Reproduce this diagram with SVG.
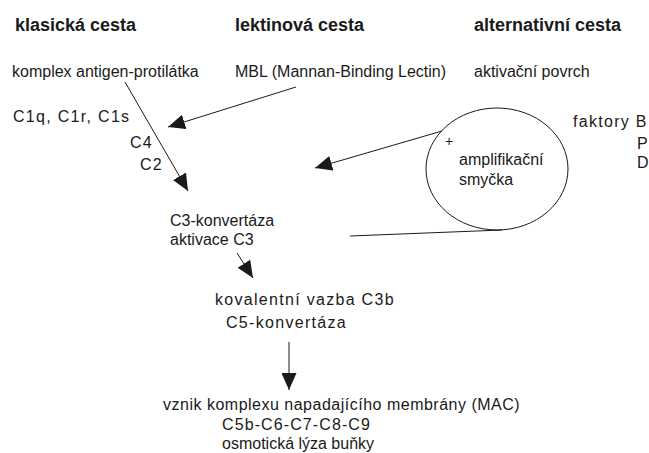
<svg xmlns="http://www.w3.org/2000/svg" width="649" height="453" viewBox="0 0 649 453">
  <style>
    text { font-family: "Liberation Sans", Arial, sans-serif; font-size: 16px; fill: #1a1a1a; }
    .title { font-weight: bold; font-size: 18px; }
    .wide { letter-spacing: 1.3px; }
    .edge { stroke: #1a1a1a; stroke-width: 1; fill: none; }
    .arrow { marker-end: url(#head); }
  </style>
  <defs>
    <marker id="head" viewBox="0 0 17 15" refX="17" refY="7.5" markerWidth="17" markerHeight="15" markerUnits="userSpaceOnUse" orient="auto">
      <path d="M0,0 L17,7.5 L0,15 z" fill="#1a1a1a"/>
    </marker>
  </defs>

  <rect width="649" height="453" fill="#ffffff"/>

  <!-- pathway headings -->
  <g id="classical">
    <text class="title" x="15" y="31">klasická cesta</text>
    <text x="12" y="77">komplex antigen-protilátka</text>
    <text class="wide" x="13" y="122">C1q, C1r, C1s</text>
    <text class="wide" x="130" y="148">C4</text>
    <text class="wide" x="140" y="170">C2</text>
  </g>
  <g id="lectin">
    <text class="title" x="235" y="31">lektinová cesta</text>
    <text x="235" y="77">MBL (Mannan-Binding Lectin)</text>
  </g>
  <g id="alternative">
    <text class="title" x="474" y="31">alternativní cesta</text>
    <text x="474" y="77">aktivační povrch</text>
  </g>
  <g id="factors">
    <text class="wide" x="573" y="127">faktory B</text>
    <text x="637" y="149">P</text>
    <text x="637" y="168">D</text>
  </g>

  <!-- amplification loop -->
  <g id="loop">
    <ellipse cx="497" cy="169" rx="71" ry="61" class="edge"/>
    <text x="445" y="146" style="font-size:14px">+</text>
    <text x="459" y="165">amplifikační</text>
    <text x="459" y="185">smyčka</text>
  </g>

  <g id="c3">
    <text x="170" y="226">C3-konvertáza</text>
    <text x="170" y="245">aktivace C3</text>
  </g>
  <g id="c5">
    <text class="wide" x="215" y="305">kovalentní vazba C3b</text>
    <text class="wide" x="226" y="328">C5-konvertáza</text>
  </g>
  <g id="mac">
    <text x="163" y="410" style="letter-spacing:0.5px">vznik komplexu napadajícího membrány (MAC)</text>
    <text x="222" y="430" style="letter-spacing:1.1px">C5b-C6-C7-C8-C9</text>
    <text x="222" y="449">osmotická lýza buňky</text>
  </g>

  <!-- connectors -->
  <g id="connectors">
    <line class="edge arrow" x1="125" y1="82" x2="188" y2="191"/>
    <line class="edge arrow" x1="296" y1="87" x2="168" y2="127"/>
    <line class="edge arrow" x1="442" y1="131" x2="315" y2="168"/>
    <line class="edge" x1="350" y1="236" x2="502" y2="230"/>
    <line class="edge arrow" x1="237" y1="253" x2="253" y2="278"/>
    <line class="edge arrow" x1="289" y1="342" x2="289" y2="390"/>
  </g>
</svg>
